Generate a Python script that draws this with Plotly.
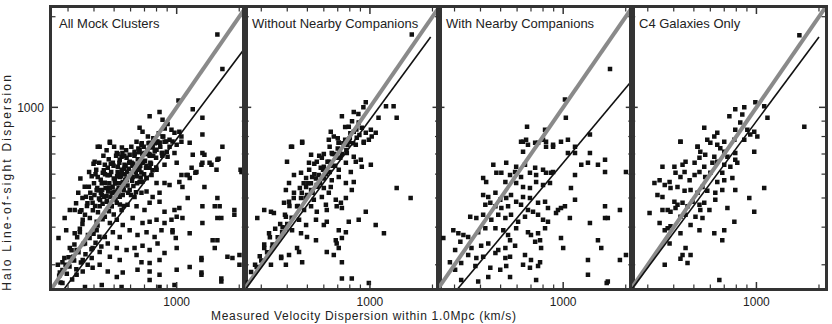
import math
import plotly.graph_objects as go

# ---------------- data (km/s) ----------------
panel_titles = ["All Mock Clusters", "Without Nearby Companions",
                "With Nearby Companions", "C4 Galaxies Only"]

x_label = "Measured Velocity Dispersion within 1.0Mpc (km/s)"
y_label = "Halo Line-of-sight Dispersion"

axis_range_log = [2.4, 3.33]
major_ticks = [1000]
major_ticktext = ["1000"]
minor_ticks = [300, 400, 500, 600, 700, 800, 900, 2000]

# fitted relation per panel: log10(y) = intercept + slope*(log10(x) - 3)
fit_slope = [0.92, 0.94, 0.825, 0.93]
fit_intercept = [2.895, 2.959, 2.816, 2.954]
fit_xmin = [200, 250, 200, 250]
fit_xmax = [2500, 1960, 2500, 2000]

all_mock = [
    (477,769),(641,769),(677,751),(741,763),(827,763),(874,769),(924,740),(1000,751),(1054,769),
    (426,740),(515,706),(543,685),(594,696),(627,712),(663,723),(700,706),(741,696),(800,723),(855,706),
    (904,685),(976,706),(1195,696),(1330,706),(1660,740),(532,670),(574,680),
    (403,660),(451,645),(493,655),(521,635),(561,645),(607,655),(648,635),(685,655),(741,630),(800,620),
    (874,645),(1000,655),(1130,596),(1245,610),(1330,655),(1470,645),(1570,670),(1555,620),(2050,610),
    (417,587),(441,606),(477,596),(504,573),(532,587),(574,573),(614,587),(663,565),(716,583),(757,596),
    (800,561),(874,561),(924,552),(1155,583),(1066,544),(1360,544),
    (412,532),(436,512),(466,540),(493,520),(521,532),(550,512),(594,532),(627,504),(677,520),(716,525),
    (766,504),(827,520),(1130,500),
    (394,482),(426,469),(461,486),(487,469),(515,482),(543,456),(580,475),(641,469),(700,456),(741,482),
    (827,486),(874,450),(976,456),(1030,463),(1330,469),(1525,469),(1570,429),(1640,429),(1895,456),
    (306,456),(323,456),(342,450),(289,429),(353,423),(382,429),(412,417),(451,433),(477,413),(515,423),
    (550,407),(614,429),(685,413),(741,417),(800,423),(874,413),(944,423),(1000,433),(1066,429),(1330,413),
    (294,391),(323,382),(342,385),(374,377),(412,391),(451,371),(493,385),(532,371),(594,391),(648,377),
    (716,385),(783,371),(845,391),(955,385),(1155,382),(1490,362),
    (270,368),(306,341),(330,336),(362,353),(394,341),(426,331),(466,353),(515,341),(574,336),(627,341),
    (685,347),(741,336),(809,353),(874,328),(1000,341),(1525,341),(1570,362),
    (282,306),(318,319),(353,311),(390,316),(426,300),(477,319),(532,311),(641,323),(677,306),(741,304),
    (827,311),(1316,311),(1855,316),(2005,323),
    (274,283),(330,278),(353,285),(394,293),(466,285),(515,273),(550,283),(648,289),(741,285),(827,278),
    (1000,289),
    (282,261),(362,253),(436,257),(543,253),(741,267),(827,253),(976,257),(1316,278),(1640,264),
    (1570,1745),(1660,1340),(1020,1054),(827,965),(741,935),(1330,924),(1195,985),(663,856),(685,830),
    (477,763),(417,740),(855,910),(904,880),(944,843),(976,824),(1030,830),(1054,800),(924,781),(855,800),
    (827,763),(766,740),(800,769),(1155,763),(1330,812),
    (1360,696),(1316,645),(1440,655),(1590,675),(2030,620),(1180,630),(1230,606),(1115,596),(1054,596),
    (1030,565),(1570,500),(1610,469),(1895,440),(1316,316),(2005,300),(1755,319),(1316,283),(1640,270),
    (1155,295),(990,368),(955,391),
    (395,455),(405,470),(418,448),(428,492),(432,520),(440,478),(447,505),(455,540),(462,490),(468,525),
    (474,560),(480,505),(486,470),(492,545),(498,580),(503,525),(508,495),(514,560),(520,610),(526,540),
    (532,505),(538,590),(544,620),(550,565),(556,530),(562,600),(568,640),(574,580),(580,550),(588,625),
    (595,660),(602,600),(610,570),(618,650),(626,690),(634,620),(642,590),(650,672),(660,710),(668,640),
    (676,608),(684,700),(694,740),(704,665),(712,630),(722,720),(732,760),(742,690),(752,650),(762,745),
    (772,790),(784,715),(796,680),(808,770),(820,820),(834,740),(848,705),(862,800),(876,850),(890,770),
    (420,530),(436,560),(452,600),(466,630),(482,650),(400,560),(384,520),(372,480),(362,440),(352,410),
    (342,395),(332,370),(322,350),(312,335),(302,318),(292,300),(282,288),(272,276),(348,455),(366,505),
    (378,545),(390,590),(410,620),(424,655),(444,690),(460,720),(500,740),(520,700),(545,735),(560,690),
    (440,425),(472,452),(498,441),(533,476),(557,470),(603,512),(637,522),(684,566),(716,583),(765,618),
    (797,631),(853,690),(896,712),(955,770),
    (402,512),(415,540),(423,498),(431,575),(438,532),(446,618),(451,562),(459,508),(465,595),(471,672),
    (478,540),(484,610),(490,520),(497,640),(505,560),(511,690),(517,590),(524,520),(530,655),(536,560),
    (541,600),(548,705),(553,540),(559,625),(566,575),(571,720),(577,610),(584,520),(591,655),(597,590),
    (605,740),(612,640),(619,548),(628,700),(636,610),(645,560),(654,730),(662,620),(671,585),(679,760),
    (688,660),(697,600),(706,700),(716,640),(727,800),(736,700),(747,655),(759,735),(771,690),(785,760),
    (268,300),(276,262),(288,316),(296,280),(305,296),(314,268),(321,310),(329,290),(337,330),(346,305),
    (355,352),(364,325),(373,300),(381,368),(389,338),(398,380),(407,355),(416,405),(425,372),(434,345),
    (352,500),(361,545),(370,470),(379,610),(388,500),(398,650),(407,600),(344,580),(336,520),(328,480),
]

without_companions = [
    (472,769),(708,763),(791,769),(855,751),(934,763),(422,740),(521,696),(587,680),(655,706),(708,680),
    (774,706),(836,685),(904,670),(509,655),(555,660),(600,635),(648,645),(708,620),(766,655),(809,610),
    (855,660),(914,635),(1010,645),(399,660),(431,596),(466,606),(493,583),(527,587),(567,596),(614,606),
    (655,573),(708,587),(766,561),(836,565),(493,544),(521,532),(555,552),(600,540),(648,544),(408,561),
    (394,532),(1345,540),(1570,500),(431,520),(466,500),(498,512),(537,493),(587,504),(634,520),(685,493),
    (725,482),(766,500),(818,532),(408,486),(386,482),(446,469),(482,456),(521,469),(555,450),(614,475),
    (620,456),(692,469),(733,463),(955,450),(883,423),(791,417),(310,456),(334,450),(287,429),(345,446),
    (394,433),(456,423),(493,407),(550,423),(600,407),(620,417),(708,391),(766,385),(1066,407),(1168,382),
    (394,397),(422,391),(466,382),(498,371),(550,362),(685,362),(733,368),(327,382),(378,385),
    (310,341),(338,341),(374,316),(408,323),(446,341),(456,331),(620,331),(692,353),(708,341),(670,323),
    (394,300),(472,306),(733,306),(334,300),(374,319),(733,270),(818,270),(988,261),
    (1590,1745),(955,1040),(836,965),(733,935),(1195,1008),(1300,1008),(1345,924),(1100,924),(791,862),
    (836,830),(883,890),(914,856),(955,824),(1010,843),(1020,800),(1066,824),(864,793),(934,769),(988,781),
    (648,830),(670,800),(708,763),(634,781),(472,763),(417,740),
    (520,560),(540,600),(560,545),(580,630),(600,580),(625,660),(640,610),(660,700),(680,640),(700,730),
    (720,680),(745,760),(770,720),(800,790),(830,760),(860,845),(890,810),(600,700),(570,690),(540,650),
    (510,620),(480,560),(460,540),(430,500),(410,470),(390,440),(370,410),(350,395),(330,370),(310,350),
    (295,320),(280,300),(268,284),(258,262),(640,740),(700,790),(760,860),(820,900),(880,950),(930,1000),
    (450,470),(470,520),(490,500),(505,560),(530,520),(550,580),(575,560),(595,620),(615,600),(635,660),
    (655,640),(675,700),(695,680),(715,720),(735,700),(760,780),(780,750),(805,820),(420,430),(400,410),
    (380,400),(360,370),(340,350),(320,330),(300,310),(285,295),
]

with_companions = [
    (641,769),(757,763),(827,740),(894,751),(976,769),(1054,706),(1140,706),(1345,706),(641,712),(677,751),
    (461,645),(532,655),(594,635),(655,645),(733,630),(800,620),(894,610),(1222,645),(1316,655),(1470,645),
    (1590,670),(1590,610),(2005,610),(477,606),(504,606),(555,596),(587,610),(627,587),(692,606),(741,596),
    (827,606),(1140,596),(412,583),(426,565),(527,565),(594,561),(641,544),(692,540),(741,565),(800,552),
    (864,561),(874,606),(1090,540),(412,512),(436,504),(472,520),(498,493),(532,500),(561,512),(641,504),
    (692,500),(818,486),(422,475),(446,482),(472,469),(504,463),(543,469),(594,486),(627,475),(677,456),
    (716,450),(757,482),(845,463),(944,456),(976,463),(1020,469),(1140,493),(1590,469),(1875,456),
    (357,433),(382,429),(412,440),(451,423),(487,440),(527,429),(561,440),(607,417),(655,433),(757,440),
    (800,423),(845,417),(924,446),(1077,429),(1345,413),(1590,429),(1640,429),
    (296,391),(313,382),(331,377),(349,371),(390,385),(422,397),(472,397),(515,391),(543,377),(594,397),
    (677,385),(700,377),(757,382),(818,397),(976,368),(1470,362),
    (265,368),(302,336),(320,358),(362,341),(403,347),(436,353),(487,336),(527,341),(555,362),(587,347),
    (733,358),(774,362),(783,341),(1000,341),(1525,341),
    (349,323),(382,316),(412,319),(472,328),(527,316),(555,319),(655,323),(700,311),(774,306),(1316,311),
    (1875,311),(2005,323),(285,306),
    (302,289),(323,304),(378,297),(446,293),(498,289),(532,297),(641,300),(692,293),(757,297),(1316,278),
    (436,273),(555,273),(323,267),(390,264),(1640,264),(1620,261),(741,267),
    (1680,1340),(1020,1062),(1030,924),(1345,812),(670,862),(818,843),(800,781),(827,769),(894,740),
    (733,763),(663,781),(627,769),(1054,781),(1140,740),
]

c4_only = [
    (431,769),(521,740),(537,712),(600,763),(648,751),(670,731),(700,712),(791,706),(976,712),(532,680),
    (567,696),(627,685),(725,685),(353,635),(403,635),(441,645),(456,660),(504,655),(561,635),(614,655),
    (648,660),(700,645),(749,635),(791,670),(809,655),(323,561),(342,573),(362,552),(382,565),(408,606),
    (431,587),(451,610),(477,573),(504,596),(532,610),(567,587),(600,606),(648,565),(700,573),(766,583),
    (685,606),(386,540),(417,544),(451,528),(482,532),(521,520),(550,544),(580,528),(634,520),(685,532),
    (791,532),(1090,540),(334,512),(353,504),(403,486),(417,475),(441,482),(466,469),(493,486),(532,475),
    (561,482),(594,456),(634,493),(725,463),(924,500),(976,450),(306,446),(353,456),(374,456),(386,450),
    (408,463),(431,433),(456,440),(509,433),(537,456),(550,429),(783,417),(342,413),(362,391),(374,397),
    (386,403),(482,407),(532,391),(627,382),(700,391),(685,362),(382,353),(431,382),(456,341),(441,323),
    (482,323),(466,304),(362,300),(663,267),(431,314),
    (1610,1735),(1700,862),(1130,924),(1090,1008),(988,1040),(874,1000),(855,946),(791,985),(741,935),
    (836,890),(791,843),(904,843),(976,830),(1010,800),(934,812),(874,781),(648,824),(627,800),(561,856),
    (580,781),(700,769),(431,769),(521,740),(783,781),
]

panels = [all_mock, without_companions, with_companions, c4_only]

# ---------------- figure ----------------
FONT = "Liberation Sans, Arial, Helvetica, sans-serif"
INK = "#222222"
FRAME = "#333333"
PLOT_H = 280.0   # plot-area height in px
PANEL_W = 194.0  # panel width in px
MAJOR_LEN, MINOR_LEN = 6.0, 3.5

fig = go.Figure()
n = len(panels)
shapes = []
for i, pts in enumerate(panels):
    k = "" if i == 0 else str(i + 1)
    xs = [p[0] for p in pts]
    ys = [p[1] for p in pts]
    fig.add_trace(go.Scatter(x=xs, y=ys, mode="markers", xaxis="x" + k, yaxis="y" + k,
                             marker=dict(symbol="square", size=4.5, color="#111111",
                                         line=dict(width=0)),
                             showlegend=False, hoverinfo="skip"))
    one = [100, 5000]  # one-to-one relation
    fig.add_trace(go.Scatter(x=one, y=one, mode="lines", xaxis="x" + k, yaxis="y" + k,
                             line=dict(color="#8a8a8a", width=4), showlegend=False,
                             hoverinfo="skip"))
    fx = [fit_xmin[i], fit_xmax[i]]
    fy = [10 ** (fit_intercept[i] + fit_slope[i] * (math.log10(v) - 3)) for v in fx]
    fig.add_trace(go.Scatter(x=fx, y=fy, mode="lines", xaxis="x" + k, yaxis="y" + k,
                             line=dict(color="#111111", width=1.6), showlegend=False,
                             hoverinfo="skip"))

    axis_common = dict(type="log", range=axis_range_log, showgrid=False, zeroline=False,
                       showline=True, linewidth=2.5, linecolor=FRAME, mirror=True,
                       ticks="", tickmode="array", tickvals=major_ticks,
                       ticktext=major_ticktext,
                       tickfont=dict(family=FONT, size=12, color=INK))
    fig.layout["xaxis" + k] = dict(axis_common, domain=[i / n, (i + 1) / n], anchor="y" + k,
                                   ticklabelstandoff=1)
    fig.layout["yaxis" + k] = dict(axis_common, domain=[0, 1], anchor="x" + k,
                                   showticklabels=(i == 0), ticklabelstandoff=3)

    # tick marks drawn inside the frame on all four sides
    for vals, tl, tw in ((major_ticks, MAJOR_LEN, 1.5), (minor_ticks, MINOR_LEN, 1.2)):
        fy_len = tl / PLOT_H
        fx_len = tl / PANEL_W
        for v in vals:
            for (a, b) in ((0, fy_len), (1 - fy_len, 1)):
                shapes.append(dict(type="line", xref="x" + k, yref="y" + k + " domain",
                                   x0=v, x1=v, y0=a, y1=b,
                                   line=dict(color=FRAME, width=tw), layer="above"))
            for (a, b) in ((0, fx_len), (1 - fx_len, 1)):
                shapes.append(dict(type="line", xref="x" + k + " domain", yref="y" + k,
                                   x0=a, x1=b, y0=v, y1=v,
                                   line=dict(color=FRAME, width=tw), layer="above"))

    fig.add_annotation(text=panel_titles[i], xref=("x" + k + " domain"),
                       yref=("y" + k + " domain"), x=0.026, y=0.943,
                       xanchor="left", yanchor="middle", showarrow=False,
                       font=dict(family=FONT, size=13, color=INK))

fig.add_annotation(text='<span style="letter-spacing:0.7px">' + x_label + '</span>',
                   xref="paper", yref="paper", x=0.403, y=-0.1,
                   xanchor="center", yanchor="middle", showarrow=False,
                   font=dict(family=FONT, size=12, color=INK))
fig.add_annotation(text='<span style="letter-spacing:2.2px">' + y_label + '</span>',
                   xref="paper", yref="paper", x=-0.0593, y=0.38, textangle=-90,
                   xanchor="center", yanchor="middle", showarrow=False,
                   font=dict(family=FONT, size=12, color=INK))

fig.update_layout(width=832, height=324, margin=dict(l=52, r=4, t=8, b=36),
                  paper_bgcolor="white", plot_bgcolor="white", showlegend=False,
                  shapes=shapes)

fig.write_html("out.html")
